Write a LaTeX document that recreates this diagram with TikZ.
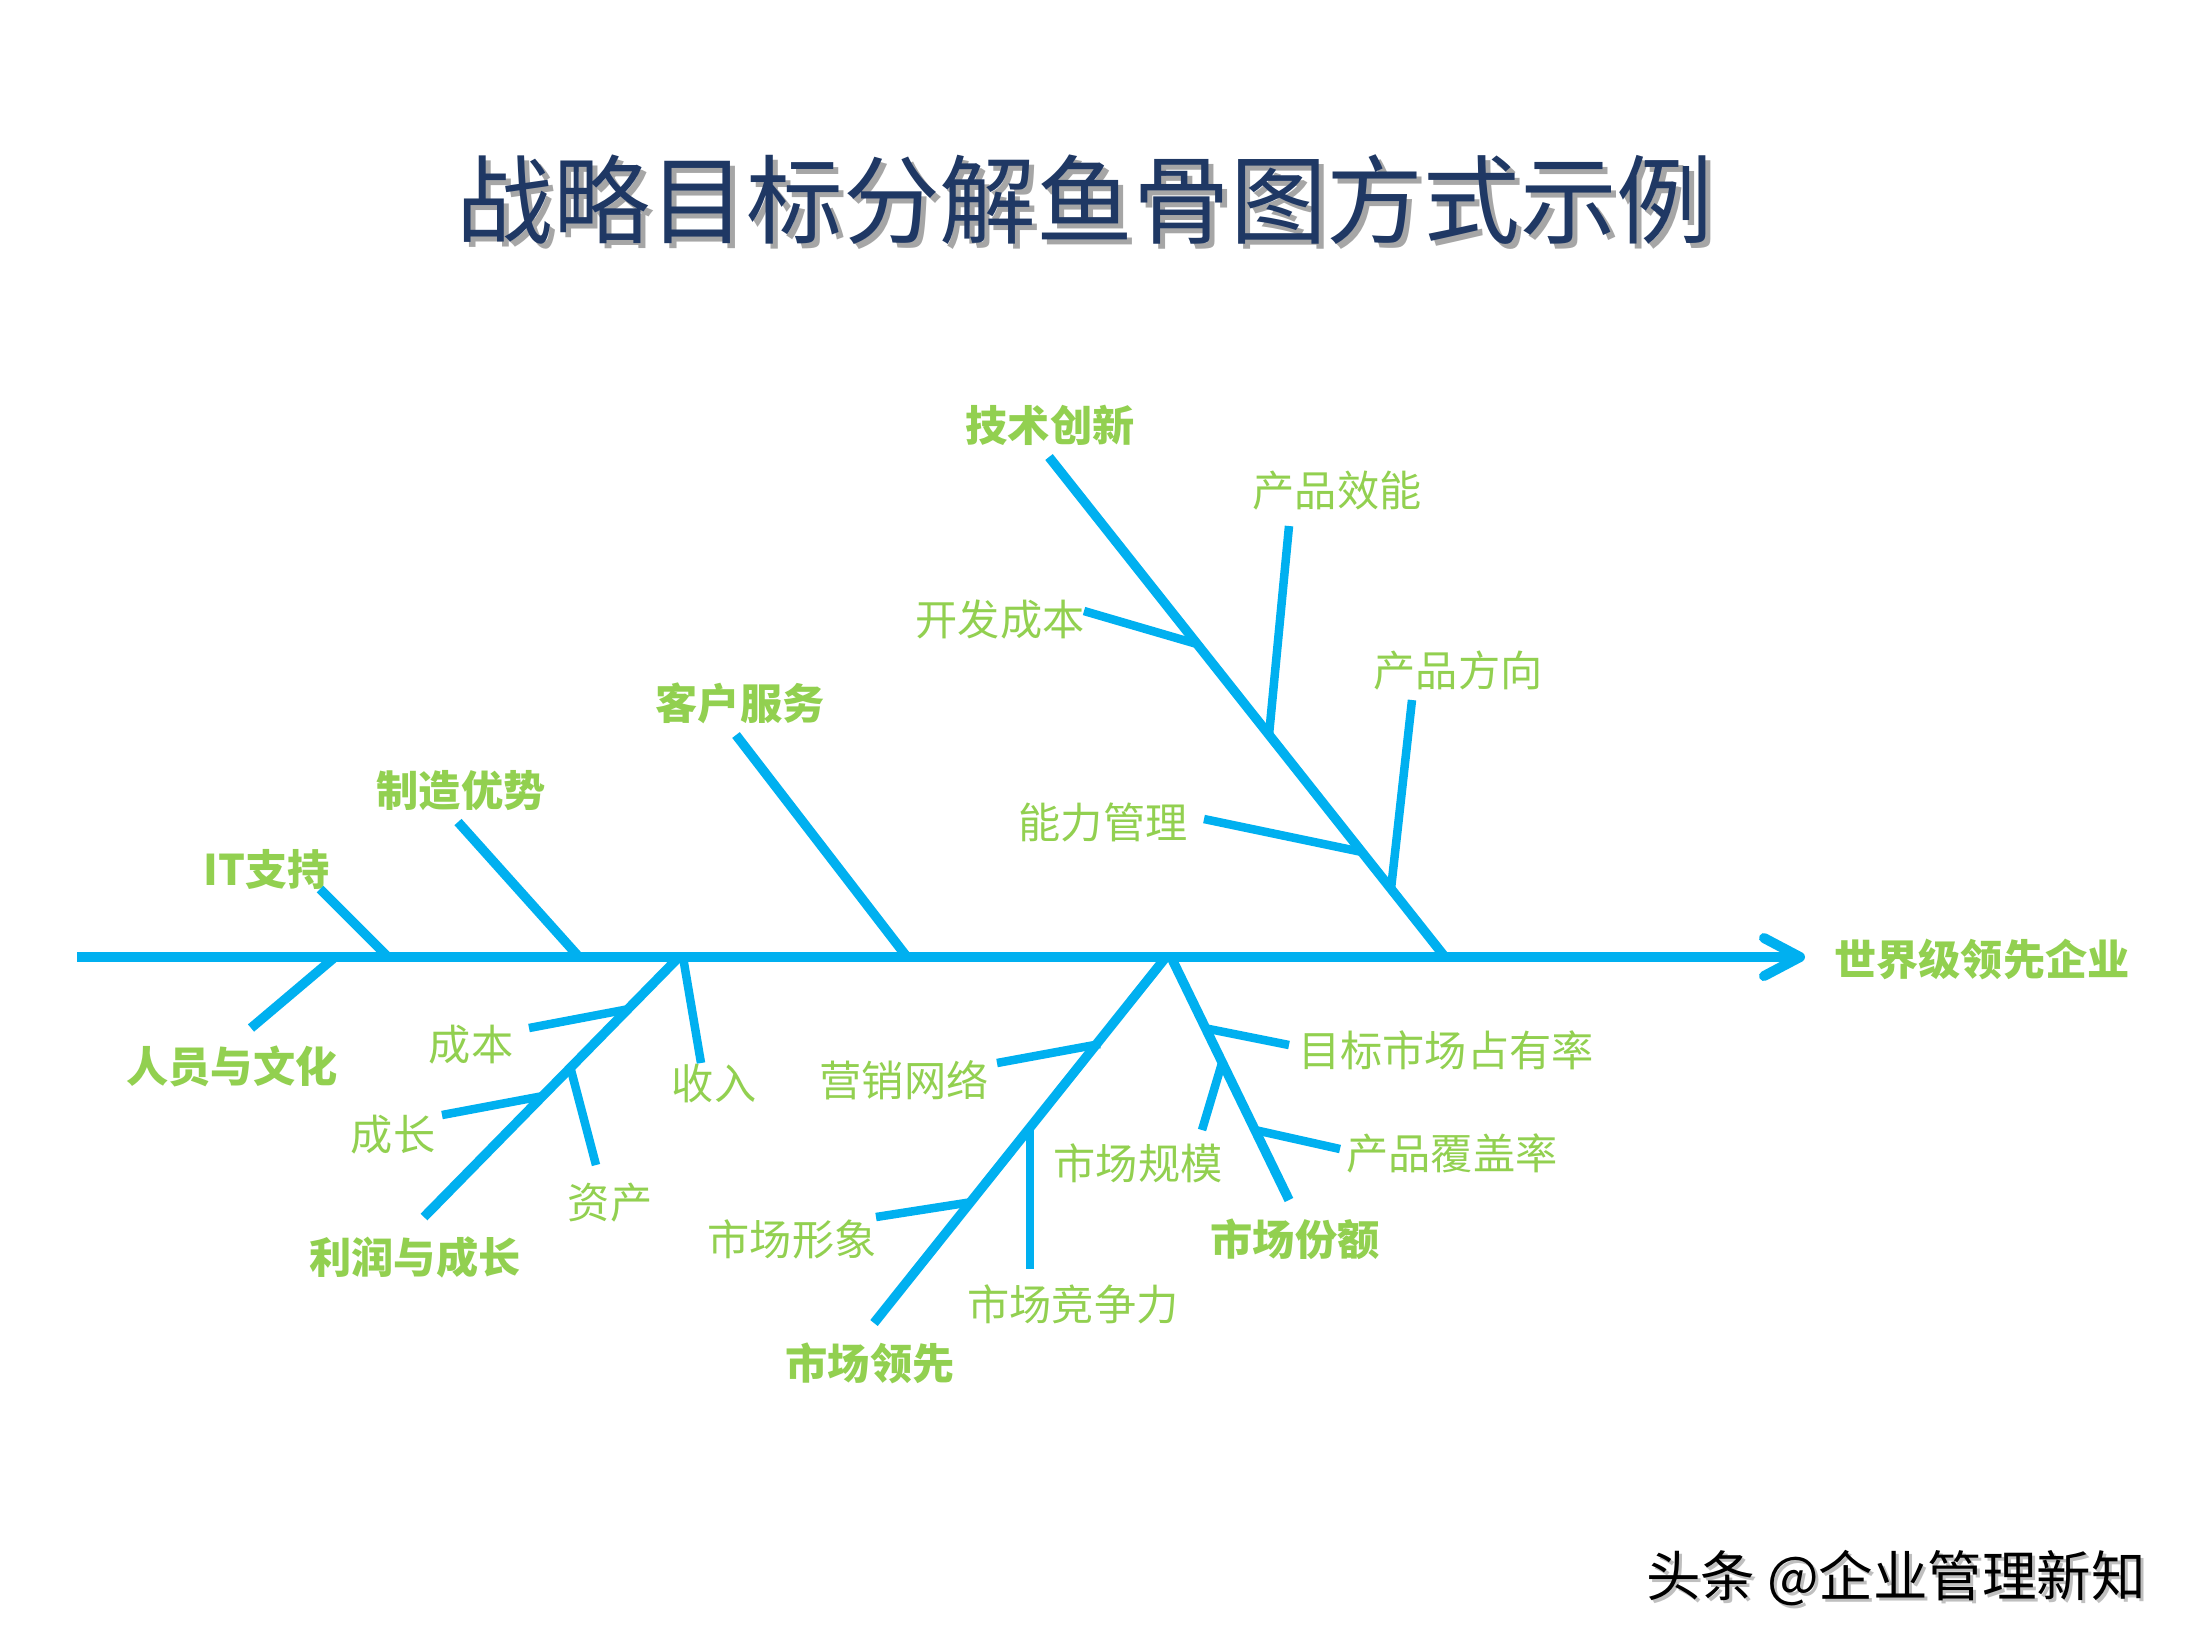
\documentclass[tikz,border=0pt]{standalone}
\usepackage{fontspec}
\newfontfamily\cjk{Noto Sans CJK SC}
\usetikzlibrary{arrows.meta}
\definecolor{bone}{HTML}{00B0F0}
\definecolor{lab}{HTML}{92D050}
\definecolor{navy}{HTML}{1F3864}
\begin{document}
\begin{tikzpicture}[x=0.01cm,y=-0.01cm,
  spineline/.style={draw=bone,line width=0.1cm},
  mainbone/.style={draw=bone,line width=0.095cm},
  subbone/.style={draw=bone,line width=0.085cm},
  lbl/.style={font=\cjk\fontsize{12}{14}\selectfont,text=lab,inner sep=0pt},
  lblb/.style={font=\cjk\bfseries\fontsize{12}{14}\selectfont,text=lab,inner sep=0pt},
  titlefont/.style={font=\cjk\fontsize{27.5}{32}\selectfont,inner sep=0pt},
  markfont/.style={font=\cjk\fontsize{15.5}{18}\selectfont,inner sep=0pt}]
\useasboundingbox (0,0) rectangle (2200,1650);
\fill[white] (0,0) rectangle (2200,1650);

% title
\node[titlefont,text=black!35] (titleshadow) at (1090,205) {战略目标分解鱼骨图方式示例};
\node[titlefont,text=navy] (title) at (1085,200) {战略目标分解鱼骨图方式示例};

% watermark
\node[markfont,text=black!25] (markshadow) at (1899,1581) {头条 @企业管理新知};
\node[markfont,text=black] (mark) at (1896,1578) {头条 @企业管理新知};

% labels
\node[lblb] (it) at (267,869) {IT支持};
\node[lblb] (zz) at (461,791) {制造优势};
\node[lblb] (kh) at (740,703) {客户服务};
\node[lblb] (js) at (1050,425) {技术创新};
\node[lbl] (kf) at (1000,620) {开发成本};
\node[lbl] (xn) at (1337,491) {产品效能};
\node[lbl] (nl) at (1103,822) {能力管理};
\node[lbl] (fx) at (1458,670) {产品方向};
\node[lblb] (goal) at (1982,959) {世界级领先企业};
\node[lblb] (ry) at (232,1066) {人员与文化};
\node[lbl] (cb) at (471,1045) {成本};
\node[lbl] (sr) at (714,1083) {收入};
\node[lbl] (cz) at (393,1135) {成长};
\node[lbl] (zc) at (610,1203) {资产};
\node[lblb] (lr) at (415,1257) {利润与成长};
\node[lbl] (yx) at (904,1080) {营销网络};
\node[lbl] (xx) at (792,1239) {市场形象};
\node[lbl] (jz) at (1073,1304) {市场竞争力};
\node[lblb] (lx) at (870,1363) {市场领先};
\node[lbl] (gm) at (1138,1163) {市场规模};
\node[lblb] (fe) at (1295,1239) {市场份额};
\node[lbl] (mb) at (1446,1050) {目标市场占有率};
\node[lbl] (fg) at (1452,1153) {产品覆盖率};

% coordinates
\coordinate (s0) at (77,957);
\coordinate (tip) at (1805,957);
\coordinate (itS) at (388,957);   \coordinate (itE) at (320,889);
\coordinate (zzS) at (579,957);   \coordinate (zzE) at (458,822);
\coordinate (khS) at (907,957);   \coordinate (khE) at (736,735);
\coordinate (jsS) at (1445,957);  \coordinate (jsE) at (1049,457);
\coordinate (kfS) at (1197,644);  \coordinate (kfE) at (1084,611);
\coordinate (xnS) at (1269,735);  \coordinate (xnE) at (1289,526);
\coordinate (nlS) at (1362,852);  \coordinate (nlE) at (1204,819);
\coordinate (fxS) at (1391,889);  \coordinate (fxE) at (1412,700);
\coordinate (ryS) at (335,957);   \coordinate (ryE) at (251,1028);
\coordinate (lrS) at (679,957);   \coordinate (lrE) at (424,1217);
\coordinate (cbS) at (629,1009);  \coordinate (cbE) at (529,1028);
\coordinate (srS) at (683,957);   \coordinate (srE) at (701,1063);
\coordinate (czS) at (543,1096);  \coordinate (czE) at (442,1115);
\coordinate (zcS) at (571,1070);  \coordinate (zcE) at (596,1165);
\coordinate (lxS) at (1166,957);  \coordinate (lxE) at (874,1323);
\coordinate (yxS) at (1100,1044); \coordinate (yxE) at (997,1063);
\coordinate (jzS) at (1030,1130); \coordinate (jzE) at (1030,1269);
\coordinate (xxS) at (972,1202);  \coordinate (xxE) at (876,1217);
\coordinate (feS) at (1171,957);  \coordinate (feE) at (1289,1200);
\coordinate (mbS) at (1204,1028); \coordinate (mbE) at (1289,1045);
\coordinate (gmS) at (1222,1063); \coordinate (gmE) at (1202,1130);
\coordinate (fgS) at (1255,1130); \coordinate (fgE) at (1340,1149);

% spine
\draw[spineline,-{Straight Barb[length=3.6mm,width=3.8mm,round]}] (s0) -- (tip);

% main bones
\foreach \b in {it,zz,kh,js,ry,lr,lx,fe}{
  \draw[mainbone] (\b S) -- (\b E);
}
% sub bones
\foreach \b in {kf,xn,nl,fx,cb,sr,cz,zc,yx,jz,xx,mb,gm,fg}{
  \draw[subbone] (\b S) -- (\b E);
}
\end{tikzpicture}
\end{document}
